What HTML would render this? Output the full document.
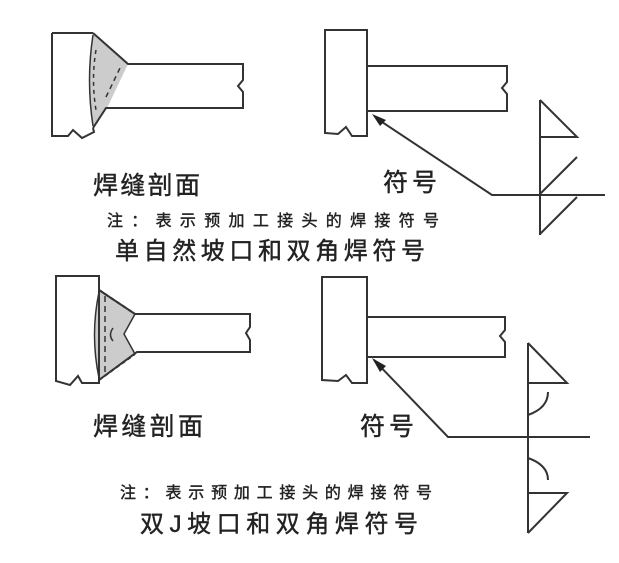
<!DOCTYPE html>
<html><head><meta charset="utf-8"><style>
html,body{margin:0;padding:0;background:#fff;}
svg{display:block;}
text{font-family:"Liberation Sans","Noto Sans CJK SC",sans-serif;fill:#222;stroke:#222;stroke-width:0.4;}
</style></head><body>
<svg width="619" height="563" viewBox="0 0 619 563" xmlns="http://www.w3.org/2000/svg">
<g fill="none" stroke="#333" stroke-width="2">
<!-- top left -->
<path d="M93,33 L128,64 L108,106 L93,128 Q86,80 93,33 Z" fill="#ccc" stroke="none"/>
<path d="M52,33 L93,33 M52,33 L52,136 L68,136 L73,130 L82,138 L94,132 L93,128"/>
<path d="M93,33 L128,64 L243,64 L243,80 L238,86 L243,92 L243,108 L106,108 L93,128"/>
<path d="M93,35 Q86,80 93,126" stroke-width="1.5"/>
<path d="M96,50 Q91,80 96,110" stroke-dasharray="4,4" stroke-width="1.5"/>
<path d="M106,97 L120,68" stroke-dasharray="5,4" stroke-width="1.5"/>
<!-- top right -->
<path d="M325,30 L367,30 L367,136 L352,136 L346,127 L338,134 L325,133 Z"/>
<path d="M367,66 L507,66 L507,82 L502,88 L507,94 L507,111 L367,111"/>
<path d="M376,118 L492,195 L605,195"/>
<path d="M540,100 L540,235 M540,100 L577,137 L540,137 M540,194 L577,157 M577,197 L540,234"/>
<!-- bottom left -->
<path d="M99,290 L135,314 L124,334 L135,354 L99,380 Q90,335 99,290 Z" fill="#ccc" stroke="none"/>
<path d="M56,276 L99,276 L99,383 L82,383 L78,376 L70,385 L56,381 Z"/>
<path d="M99,290 L135,314 L250,314 L250,327 L246,333 L250,340 L250,352 L137,352 L99,380"/>
<path d="M135,314 L124,334 L135,354" stroke-width="1.5"/>
<path d="M99,292 Q90,335 99,378" stroke-width="1.5"/>
<path d="M105,296 L105,376" stroke-dasharray="6,4" stroke-width="1.5"/>
<path d="M99,290 L135,314 M99,380 L135,354" stroke-dasharray="4,3"/>
<path d="M113,328 Q108,335 113,341" stroke-width="1.5"/>
<!-- bottom right -->
<path d="M322,277 L367,277 L367,383 L352,383 L346,375 L338,381 L322,380 Z"/>
<path d="M367,317 L505,317 L505,330 L500,336 L505,342 L505,357 L367,357"/>
<path d="M374,360 L448,437 L590,437"/>
<path d="M528,343 L528,533 M528,343 L567,383 L528,383 M528,493 L567,493 L528,533"/>
<path d="M528,415 Q548,408 548,392"/>
<path d="M528,458 Q548,465 548,480"/>
</g>
<polygon points="372,114 386,120 380,126" fill="#222"/>
<polygon points="372,358 386,366 380,372" fill="#222"/>
<text x="93" y="194" font-size="25" textLength="107">焊缝剖面</text>
<text x="383" y="191" font-size="25" textLength="54">符号</text>
<text x="107" y="226" font-size="16" textLength="332">注：表示预加工接头的焊接符号</text>
<text x="115" y="259" font-size="24" textLength="310">单自然坡口和双角焊符号</text>
<text x="93" y="435" font-size="25" textLength="110">焊缝剖面</text>
<text x="360" y="435" font-size="25" textLength="54">符号</text>
<text x="120" y="498" font-size="16" textLength="312">注：表示预加工接头的焊接符号</text>
<text x="140" y="532" font-size="24" textLength="278">双J坡口和双角焊符号</text>
</svg>
</body></html>
